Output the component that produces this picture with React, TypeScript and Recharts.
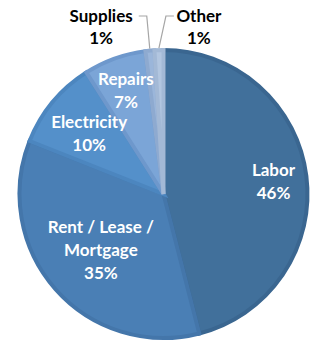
import React from 'react';
import { PieChart, Pie, Cell } from 'recharts';

const categories = ['Labor', 'Rent / Lease / Mortgage', 'Electricity', 'Repairs', 'Supplies', 'Other'];
const shares = [46, 35, 10, 7, 1, 1];

const fills = ['#41709b', '#4a7fb5', '#5490ca', '#7ba5d7', '#9bb6da', '#b2c6e0'];
const strokes = ['#3a6690', '#4476aa', '#4c86bf', '#6e98cc', '#8eaad0', '#a3b9d6'];
const insideRadius = [0.77, 0.58, 0.67, 0.77];
const outsideSide = [0, 0, 0, 0, -1, 1];

const data = categories.map((name, i) => ({ name, value: shares[i] }));

const RAD = Math.PI / 180;
const FONT = 'Lato, "Open Sans", sans-serif';

function wrap(name: string, max = 14): string[] {
  const words = name.split(' ');
  const lines: string[] = [];
  let cur = '';
  for (const w of words) {
    const next = cur ? cur + ' ' + w : w;
    if (next.length > max && cur) {
      lines.push(cur);
      cur = w;
    } else cur = next;
  }
  if (cur) lines.push(cur);
  return lines;
}

const renderLabel = (p: any) => {
  const { cx, cy, midAngle, outerRadius, index } = p;
  const lines = [...wrap(categories[index]), shares[index] + '%'];
  if (index < 4) {
    const r = outerRadius * insideRadius[index];
    const x = cx + r * Math.cos(-midAngle * RAD);
    const y = cy + r * Math.sin(-midAngle * RAD);
    return (
      <text
        x={x}
        y={y - (lines.length - 1) * 11.5}
        fill="#fff"
        textAnchor="middle"
        dominantBaseline="central"
        fontFamily={FONT}
        fontWeight="bold"
        fontSize={17}
      >
        {lines.map((l, i) => (
          <tspan key={i} x={x} dy={i ? 23 : 0} dominantBaseline="central">
            {l}
          </tspan>
        ))}
      </text>
    );
  }
  const side = outsideSide[index];
  const er = outerRadius + 2;
  const ex = cx + er * Math.cos(-midAngle * RAD);
  const ey = cy + er * Math.sin(-midAngle * RAD);
  const elbowX = side < 0 ? ex - 3 : ex + 7;
  const elbowY = cy - outerRadius - 34;
  const endX = elbowX + side * 8;
  const longest = Math.max(...lines.map((l) => l.length));
  const half = longest * 4.2;
  const tx = endX + side * (4 + half);
  return (
    <g>
      <polyline
        points={`${ex},${ey} ${elbowX},${elbowY} ${endX},${elbowY}`}
        fill="none"
        stroke="#a6a6a6"
        strokeWidth={1.2}
      />
      <text
        x={tx}
        y={elbowY - 1}
        fill="#000"
        textAnchor="middle"
        fontFamily={FONT}
        fontWeight="bold"
        fontSize={17}
      >
        {lines.map((l, i) => (
          <tspan key={i} x={tx} dy={i ? 22 : 0} dominantBaseline="central">
            {l}
          </tspan>
        ))}
      </text>
    </g>
  );
};

export default function App() {
  return (
    <div style={{ position: 'absolute', left: 0, top: 0, width: 325, height: 345, background: '#fff' }}>
      <PieChart width={325} height={345} margin={{ top: 0, right: 0, bottom: 0, left: 0 }}>
        <Pie
          data={data}
          dataKey="value"
          nameKey="name"
          cx={163.5}
          cy={194}
          outerRadius={144}
          startAngle={90}
          endAngle={-270}
          label={renderLabel}
          labelLine={false}
          isAnimationActive={false}
        >
          {data.map((d, i) => (
            <Cell key={d.name} fill={fills[i]} stroke={strokes[i]} strokeWidth={4} />
          ))}
        </Pie>
      </PieChart>
    </div>
  );
}
